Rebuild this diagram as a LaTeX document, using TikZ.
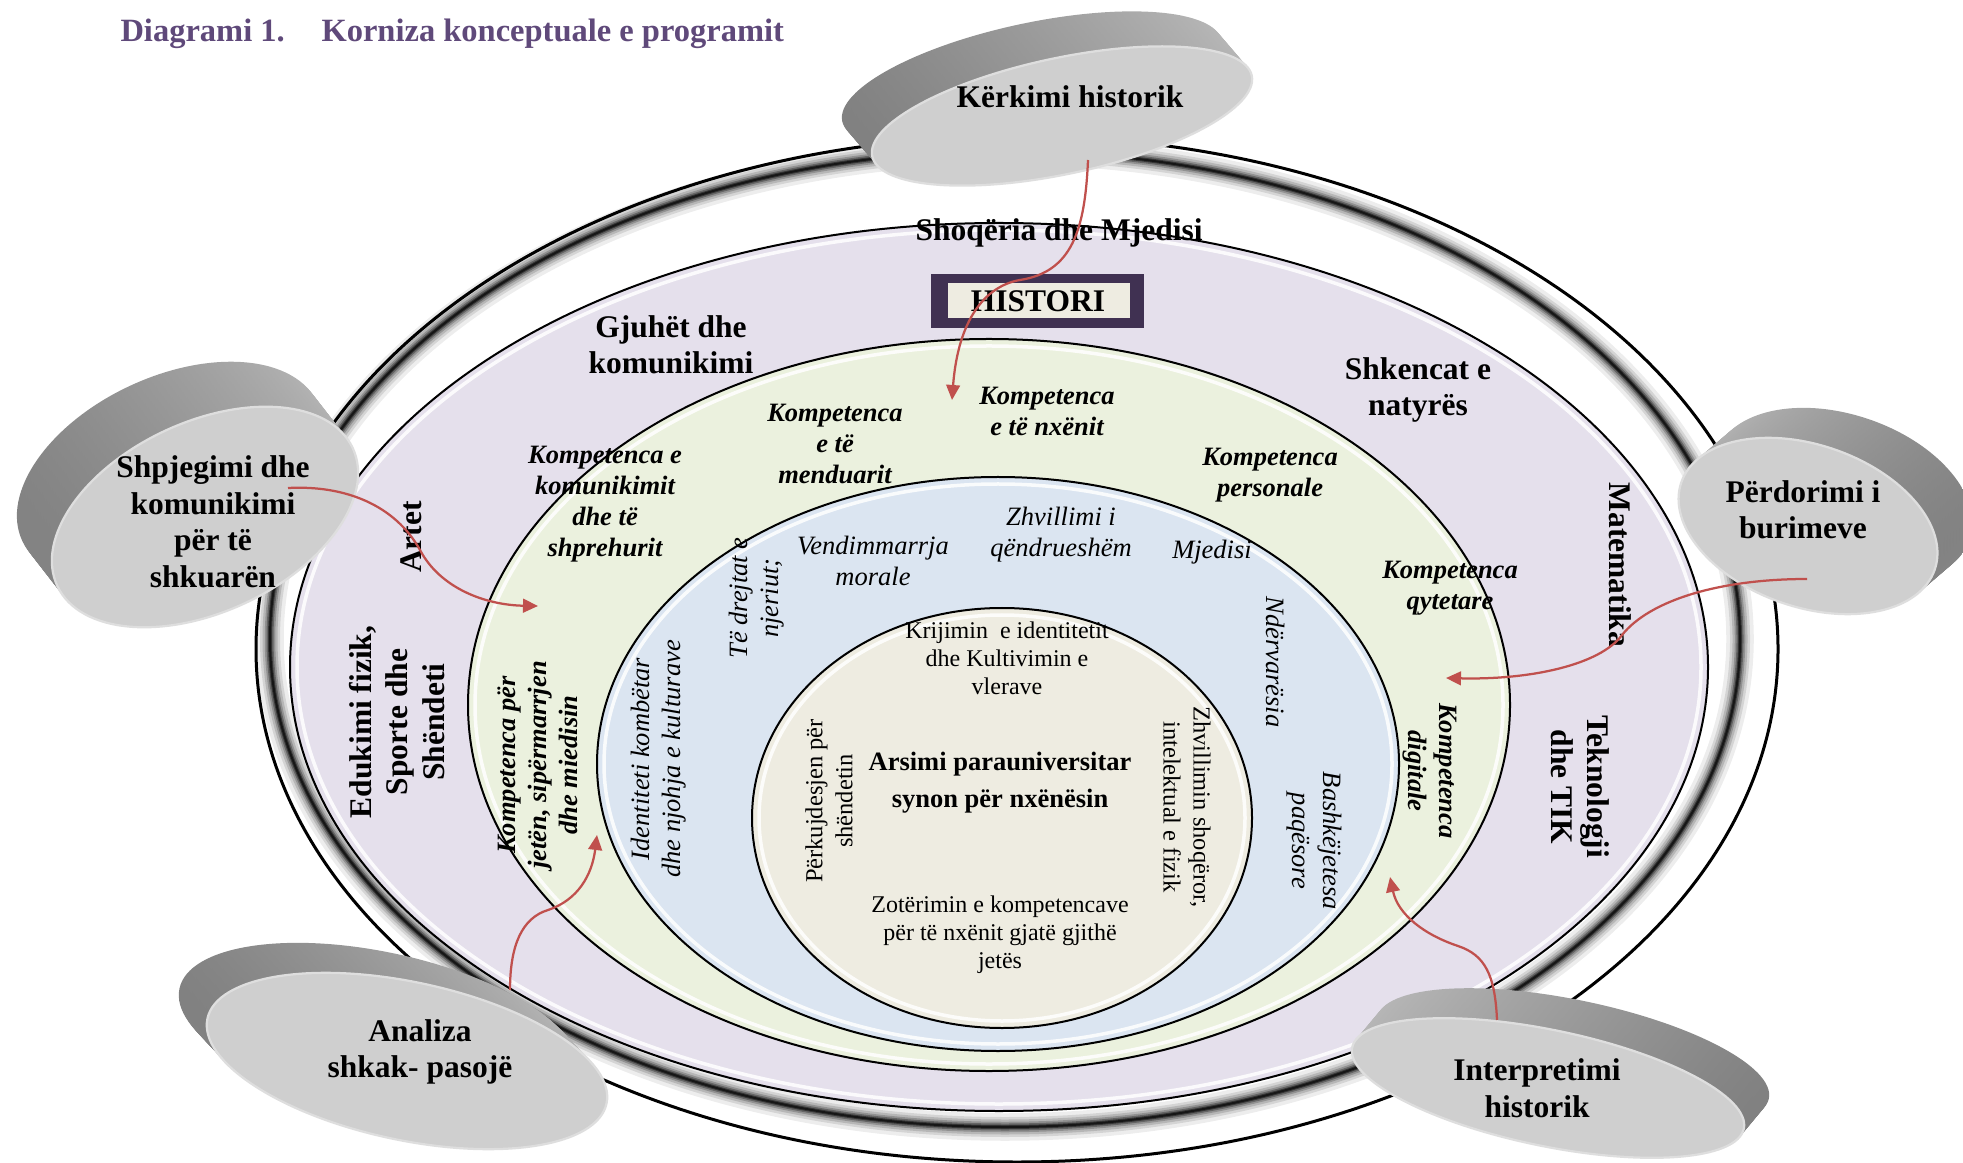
\documentclass[tikz,border=0pt]{standalone}
\usepackage{fontspec}
\setmainfont{Liberation Serif}
\usetikzlibrary{arrows.meta,calc}
\definecolor{purp}{HTML}{E5E0EC}
\definecolor{grn}{HTML}{EBF1DE}
\definecolor{blu}{HTML}{DBE5F1}
\definecolor{bei}{HTML}{EEECE1}
\definecolor{linkred}{HTML}{C0504D}
\definecolor{titlepurple}{HTML}{5F497A}
\definecolor{histframe}{HTML}{403152}
\definecolor{diskface}{HTML}{CFCFCF}
\definecolor{diskrim}{HTML}{DEDEDE}
\definecolor{sdark}{HTML}{808080}
\definecolor{slight}{HTML}{B8B8B8}
\newcommand\mydisk[8]{%
  \coordinate (#1F) at #2;
  \coordinate (#1B) at ($(#1F)+#3$);
  \foreach \i in {0,...,24}{%
    \pgfmathsetmacro\myt{\i/24}%
    \begin{scope}[shift={($(#1B)!\myt!(#1F)$)}, rotate=#6]
      \shade[left color=#7, right color=#8] (0,0) ellipse [x radius=#4, y radius=#5];
    \end{scope}}
  \begin{scope}[shift={(#1F)}, rotate=#6]
    \filldraw[fill=diskface, draw=diskrim, line width=0.9pt] (0,0) ellipse [x radius=#4, y radius=#5];
  \end{scope}}
\begin{document}
\begin{tikzpicture}[x=0.4pt,y=-0.4pt,
  ringline/.style={draw=black, line width=0.8pt},
  gloss/.style={draw=white, line width=1.4pt, opacity=0.85},
  titl/.style={font=\fontsize{13}{15}\selectfont\bfseries, text=titlepurple, inner sep=0pt, anchor=base west},
  lbl/.style={font=\fontsize{12.6}{14.6}\selectfont\bfseries, align=center, inner sep=0pt},
  comp/.style={font=\fontsize{10.6}{12.4}\selectfont\bfseries\itshape, align=center, inner sep=0pt},
  val/.style={font=\fontsize{10.6}{12.4}\selectfont\itshape, align=center, inner sep=0pt},
  core/.style={font=\fontsize{9.6}{11.2}\selectfont, align=center, inner sep=0pt},
  corerot/.style={font=\fontsize{9.8}{12}\selectfont, align=center, inner sep=0pt},
  link/.style={draw=linkred, line width=0.9pt, -{Triangle[length=6pt,width=5.5pt]}}
]
\useasboundingbox (0,0) rectangle (1963,1163);

% title
\node[titl] (t1) at (120,42) {Diagrami 1.};
\node[titl] (t2) at (321,42) {Korniza konceptuale e programit};

% outer ring
\coordinate (oc) at (1017,649);
\filldraw[fill=white, draw=black, line width=1.2pt] (oc) ellipse [x radius=761, y radius=513];
\coordinate (bc) at (1005,639);
\foreach \w/\o in {11/0.07, 8/0.1, 6/0.14, 4.2/0.2, 2.8/0.3, 1.6/0.45, 0.8/0.6}
  \draw[black, line width=\w pt, opacity=\o] (bc) ellipse [x radius=735, y radius=488];

% purple
\coordinate (pc) at (999,667);
\fill[purp] (pc) ellipse [x radius=709, y radius=444];
\draw[gloss] (pc) ellipse [x radius=702, y radius=437];
\draw[ringline] (pc) ellipse [x radius=709, y radius=444];
% green
\coordinate (gc) at (989,705);
\fill[grn] (gc) ellipse [x radius=521, y radius=366];
\draw[gloss] (gc) ellipse [x radius=514, y radius=359];
\draw[ringline] (gc) ellipse [x radius=521, y radius=366];
% blue
\coordinate (uc) at (998,764);
\fill[blu] (uc) ellipse [x radius=401, y radius=287];
\draw[gloss] (uc) ellipse [x radius=394, y radius=280];
\draw[ringline] (uc) ellipse [x radius=401, y radius=287];
% beige
\coordinate (ec) at (1002,818);
\fill[bei] (ec) ellipse [x radius=250, y radius=210];
\draw[gloss] (ec) ellipse [x radius=243, y radius=203];
\draw[ringline] (ec) ellipse [x radius=250, y radius=210];

% HISTORI box
\fill[histframe] (931,274) rectangle (1144,328);
\fill[bei] (948,283) rectangle (1130,318);
\node[lbl] (histori) at (1038,301) {HISTORI};

% ring labels
\node[lbl] (shoq) at (1059,233) {Shoqëria dhe Mjedisi};
\node[lbl] (gjuhet) at (671,345) {Gjuhët dhe\\komunikimi};
\node[lbl] (shkencat) at (1418,390) {Shkencat e\\natyrës};
\node[lbl, rotate=90] (artet) at (411,537) {Artet};
\node[lbl, rotate=90] (edukimi) at (397,722) {Edukimi fizik,\\Sporte dhe\\Shëndeti};
\node[lbl, rotate=-90] (matem) at (1620,565) {Matematika};
\node[lbl, rotate=-90] (tekno) at (1580,787) {Teknologji\\dhe TIK};

% green ring labels
\node[comp] (kkom) at (605,504) {Kompetenca e\\komunikimit\\dhe të\\shprehurit};
\node[comp] (kmend) at (835,444) {Kompetenca\\e të\\menduarit};
\node[comp] (knx) at (1047,411) {Kompetenca\\e të nxënit};
\node[comp] (kpers) at (1270,475) {Kompetenca\\personale};
\node[comp] (kqyt) at (1450,588) {Kompetenca\\qytetare};
\node[comp, rotate=-90] (kdig) at (1430,771) {Kompetenca\\digitale};
\node[comp, rotate=90] (kjet) at (538,765) {Kompetenca për\\jetën, sipërmarrjen\\dhe miedisin};

% blue ring labels
\node[val] (vend) at (873,561) {Vendimmarrja\\morale};
\node[val] (zhv) at (1061,535) {Zhvillimi i\\qëndrueshëm};
\node[val] (mjed) at (1212,552) {Mjedisi};
\node[val, rotate=90] (drejt) at (757,598) {Të drejtat e\\njeriut;};
\node[val, rotate=90] (ident) at (659,759) {Identiteti kombëtar\\dhe njohja e kulturave};
\node[val, rotate=-90] (nderv) at (1276,662) {Ndërvarësia};
\node[val, rotate=-90] (bashk) at (1314,841) {Bashkëjetesa\\paqësore};

% core labels
\node[core] (krij) at (1007,658) {Krijimin\ \ e identitetit\\dhe Kultivimin e\\vlerave};
\node[font=\fontsize{10.6}{14.8}\selectfont\bfseries, align=center, inner sep=0pt] (arsimi) at (1000,783) {Arsimi parauniversitar\\synon për nxënësin};
\node[corerot, rotate=90] (perk) at (829,801) {Përkujdesjen për\\shëndetin};
\node[corerot, rotate=-90] (zhvsh) at (1187,807) {Zhvillimin shoqëror,\\intelektual e fizik};
\node[core] (zot) at (1000,935) {Zotërimin e kompetencave\\për të nxënit gjatë gjithë\\jetës};

% disks
\mydisk{ker}{(1062,116)}{(-30,-35)}{194}{58}{12}{sdark}{slight}
\node[lbl] (kerkimi) at (1070,97) {Kërkimi historik};
\mydisk{shp}{(205,517)}{(-35,-45)}{163}{95}{25}{sdark}{slight}
\node[lbl] (shpjeg) at (213,522) {Shpjegimi dhe\\komunikimi\\për të\\shkuarën};
\mydisk{per}{(1808,526)}{(35,-30)}{134}{81}{-19}{slight}{sdark}
\node[lbl] (perdor) at (1803,510) {Përdorimi i\\burimeve};
\mydisk{ana}{(407,1061)}{(-28,-30)}{204}{79}{-12}{sdark}{slight}
\node[lbl] (analiza) at (420,1052) {Analiza\\shkak- pasojë};
\mydisk{int}{(1548,1088)}{(25,-30)}{200}{58}{-11.7}{slight}{sdark}
\node[lbl] (interp) at (1537,1088) {Interpretimi\\historik};

% connectors
\coordinate (kOut) at (1088,160);
\coordinate (kIn) at (952,400);
\draw[link] (kOut) .. controls (1085,230) and (1072,272) .. (1020,280)
  .. controls (985,286) and (958,320) .. (kIn);
\coordinate (sOut) at (288,488);
\coordinate (sIn) at (538,606);
\draw[link] (sOut) .. controls (345,485) and (395,505) .. (420,550)
  .. controls (440,588) and (485,605) .. (sIn);
\coordinate (aOut) at (510,990);
\coordinate (aIn) at (597,835);
\draw[link] (aOut) .. controls (510,945) and (522,918) .. (548,910)
  .. controls (578,900) and (592,875) .. (aIn);
\coordinate (iOut) at (1497,1020);
\coordinate (iIn) at (1390,877);
\draw[link] (iOut) .. controls (1495,975) and (1485,955) .. (1458,946)
  .. controls (1425,935) and (1398,915) .. (iIn);
\coordinate (pOut) at (1807,579);
\coordinate (pIn) at (1446,678);
\draw[link] (pOut) .. controls (1720,579) and (1650,600) .. (1622,635)
  .. controls (1600,665) and (1530,680) .. (pIn);
\end{tikzpicture}
\end{document}
